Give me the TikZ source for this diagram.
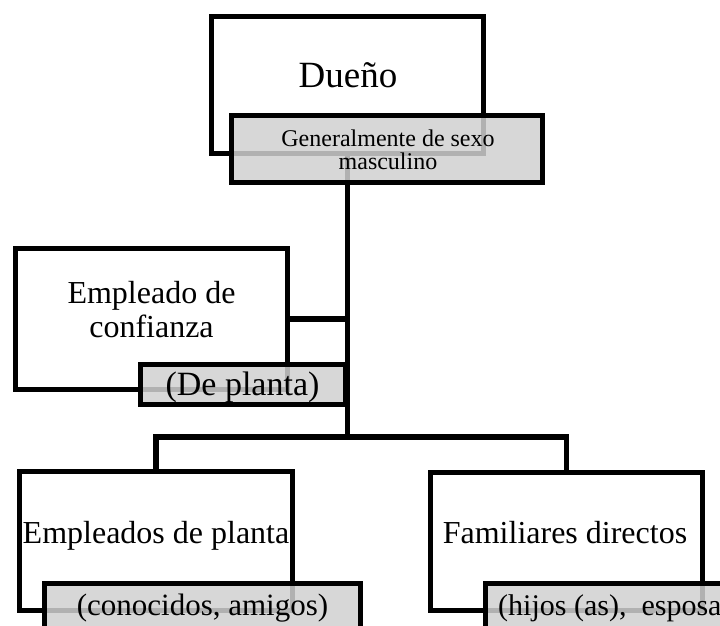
\documentclass[tikz,border=0pt]{standalone}
\usepackage{fontspec}
\setmainfont{Liberation Serif}
\begin{document}
\begin{tikzpicture}[x=1pt,y=-1pt,
  wbox/.style={draw=black,line width=5.5pt,fill=white,rectangle,inner sep=0pt,outer sep=0pt},
  gbox/.style={draw=black,line width=5.5pt,fill=black!18,fill opacity=0.85,draw opacity=1,rectangle,inner sep=0pt,outer sep=0pt},
  conn/.style={draw=black,line width=5.5pt},
  lbl/.style={inner sep=0pt,anchor=base,align=center}]
\clip (0,0) rectangle (720,626);
\fill[white] (0,0) rectangle (720,626);
% boxes (white)
\node[wbox,minimum width=272pt,minimum height=137pt] (duenobox) at (347.5,85) {};
\node[wbox,minimum width=272pt,minimum height=141pt] (empbox) at (151.5,319) {};
\node[wbox,minimum width=273pt,minimum height=139pt] (leftbox) at (156,541) {};
\node[wbox,minimum width=272pt,minimum height=138pt] (rightbox) at (566.5,541.5) {};
\coordinate (branch) at (347,437);
% connectors
\draw[conn] (duenobox.south) -- (duenobox.south |- branch);
\draw[conn] (empbox.east) -- (empbox.east -| branch);
\draw[conn] (leftbox.north) |- (branch) -| (rightbox.north);
% redraw white boxes over connector ends
\node[wbox,minimum width=272pt,minimum height=137pt] (duenoover) at (347.5,85) {};
\node[wbox,minimum width=272pt,minimum height=141pt] (empover) at (151.5,319) {};
% grey boxes
\node[gbox,minimum width=311pt,minimum height=67pt] (genbox) at (387,149) {};
\node[gbox,minimum width=205pt,minimum height=40pt] (plantabox) at (243,384.5) {};
\node[gbox,minimum width=316pt,minimum height=64pt] (conocbox) at (202.5,615.5) {};
\node[gbox,minimum width=317pt,minimum height=64pt] (hijosbox) at (644,615.5) {};
% texts
\node[lbl,font=\fontsize{37}{40}\selectfont] (tdueno) at (348,87) {Dueño};
\node[lbl,font=\fontsize{24}{23}\selectfont] (tgen) at (388,169) {Generalmente de sexo\\masculino};
\node[lbl,font=\fontsize{32}{34}\selectfont] (temp) at (151.5,337) {Empleado de\\confianza};
\node[lbl,font=\fontsize{34}{36}\selectfont] (tplanta) at (242.5,395) {(De planta)};
\node[lbl,font=\fontsize{32}{34}\selectfont] (tleft) at (156,543) {Empleados de planta};
\node[lbl,font=\fontsize{32}{34}\selectfont] (tright) at (565,543) {Familiares directos};
\node[lbl,font=\fontsize{31}{33}\selectfont] (tconoc) at (202.5,615) {(conocidos, amigos)};
\node[inner sep=0pt,anchor=base west,font=\fontsize{30}{32}\selectfont] (thijos) at (498,615) {(hijos (as),\ \ esposa)};
\end{tikzpicture}
\end{document}
